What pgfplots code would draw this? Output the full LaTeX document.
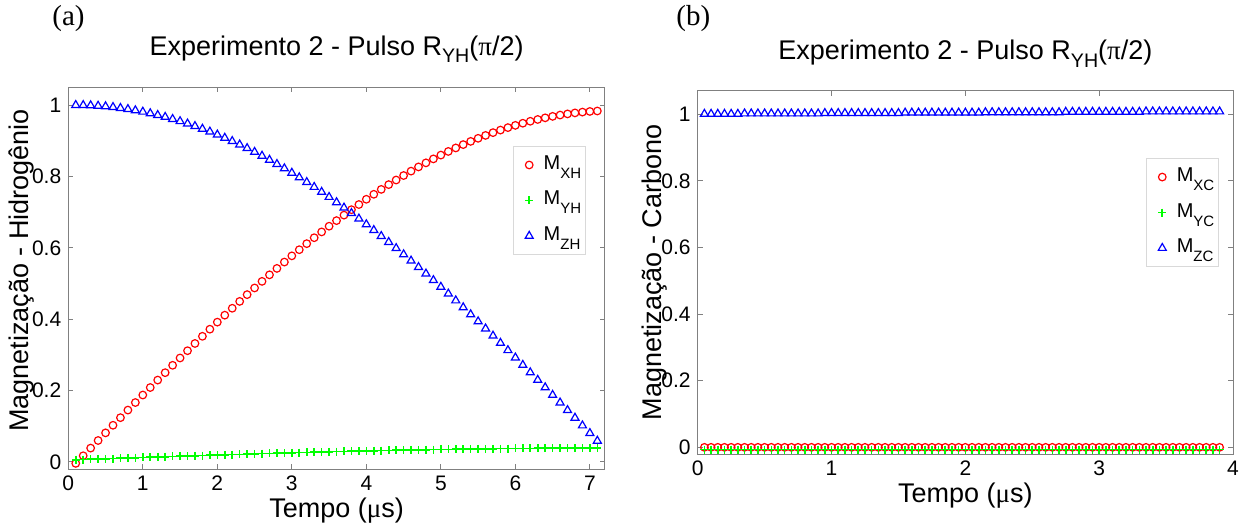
\documentclass[border=0pt]{standalone}
\usepackage{pgfplots}
\pgfplotsset{compat=1.18}
\usepackage{pgfplotstable}
\usepackage{fontspec}
\setmainfont{Liberation Sans}
\newfontfamily\seriffont{Liberation Serif}
\definecolor{mred}{rgb}{1,0,0}
\definecolor{mgreen}{rgb}{0,1,0}
\definecolor{mblue}{rgb}{0,0,1}
\newcommand\lsub[1]{\raisebox{-4.5pt}{\fontsize{7.5}{8}\selectfont #1}}
\newcommand\tsub[1]{\raisebox{-3.6pt}{\fontsize{9.8}{10}\selectfont #1}}

\pgfplotstableread{
t r g b
0.1 -0.0043 0.0060 1.0000
0.2 0.0171 0.0066 0.9998
0.3 0.0386 0.0073 0.9991
0.4 0.0599 0.0080 0.9979
0.5 0.0813 0.0087 0.9963
0.6 0.1026 0.0094 0.9942
0.7 0.1239 0.0102 0.9916
0.8 0.1452 0.0109 0.9886
0.9 0.1663 0.0116 0.9851
1.0 0.1874 0.0123 0.9812
1.1 0.2084 0.0130 0.9768
1.2 0.2293 0.0137 0.9719
1.3 0.2500 0.0144 0.9666
1.4 0.2707 0.0151 0.9608
1.5 0.2912 0.0158 0.9546
1.6 0.3116 0.0164 0.9480
1.7 0.3319 0.0171 0.9409
1.8 0.3520 0.0178 0.9333
1.9 0.3719 0.0185 0.9254
2.0 0.3917 0.0191 0.9170
2.1 0.4112 0.0198 0.9081
2.2 0.4306 0.0204 0.8989
2.3 0.4498 0.0211 0.8892
2.4 0.4688 0.0217 0.8791
2.5 0.4875 0.0223 0.8686
2.6 0.5060 0.0230 0.8577
2.7 0.5243 0.0236 0.8463
2.8 0.5423 0.0242 0.8346
2.9 0.5601 0.0248 0.8225
3.0 0.5775 0.0253 0.8100
3.1 0.5947 0.0259 0.7972
3.2 0.6117 0.0265 0.7839
3.3 0.6283 0.0271 0.7703
3.4 0.6446 0.0276 0.7564
3.5 0.6606 0.0281 0.7422
3.6 0.6763 0.0287 0.7274
3.7 0.6917 0.0292 0.7124
3.8 0.7069 0.0297 0.6971
3.9 0.7214 0.0302 0.6816
4.0 0.7361 0.0307 0.6657
4.1 0.7501 0.0311 0.6494
4.2 0.7638 0.0316 0.6328
4.3 0.7772 0.0320 0.6160
4.4 0.7901 0.0325 0.5988
4.5 0.8027 0.0329 0.5814
4.6 0.8150 0.0333 0.5637
4.7 0.8268 0.0337 0.5457
4.8 0.8382 0.0341 0.5275
4.9 0.8493 0.0345 0.5090
5.0 0.8600 0.0348 0.4903
5.1 0.8702 0.0351 0.4713
5.2 0.8800 0.0355 0.4522
5.3 0.8894 0.0358 0.4328
5.4 0.8984 0.0361 0.4132
5.5 0.9070 0.0364 0.3935
5.6 0.9151 0.0367 0.3735
5.7 0.9229 0.0369 0.3534
5.8 0.9301 0.0372 0.3331
5.9 0.9370 0.0374 0.3127
6.0 0.9433 0.0376 0.2921
6.1 0.9493 0.0378 0.2714
6.2 0.9548 0.0380 0.2505
6.3 0.9598 0.0381 0.2295
6.4 0.9644 0.0383 0.2085
6.5 0.9685 0.0384 0.1873
6.6 0.9722 0.0386 0.1660
6.7 0.9754 0.0387 0.1447
6.8 0.9782 0.0388 0.1233
6.9 0.9805 0.0388 0.1018
7.0 0.9823 0.0389 0.0803
7.1 0.9836 0.0390 0.0588
}\dataH

\pgfplotstableread{
t r g b
0.05 0.0000 -0.0070 1.0010
0.10 0.0000 -0.0070 1.0010
0.15 0.0000 -0.0070 1.0010
0.20 0.0000 -0.0070 1.0010
0.25 0.0000 -0.0070 1.0010
0.30 0.0000 -0.0070 1.0010
0.35 0.0000 -0.0070 1.0022
0.40 0.0000 -0.0070 1.0022
0.45 0.0000 -0.0070 1.0022
0.50 0.0000 -0.0070 1.0022
0.55 0.0000 -0.0070 1.0022
0.60 0.0000 -0.0070 1.0022
0.65 0.0000 -0.0070 1.0022
0.70 0.0000 -0.0070 1.0022
0.75 0.0000 -0.0070 1.0022
0.80 0.0000 -0.0070 1.0022
0.85 0.0000 -0.0070 1.0022
0.90 0.0000 -0.0070 1.0022
0.95 0.0000 -0.0070 1.0034
1.00 0.0000 -0.0070 1.0034
1.05 0.0000 -0.0070 1.0034
1.10 0.0000 -0.0070 1.0034
1.15 0.0000 -0.0070 1.0034
1.20 0.0000 -0.0070 1.0034
1.25 0.0000 -0.0070 1.0034
1.30 0.0000 -0.0070 1.0034
1.35 0.0000 -0.0070 1.0034
1.40 0.0000 -0.0070 1.0034
1.45 0.0000 -0.0070 1.0034
1.50 0.0000 -0.0070 1.0034
1.55 0.0000 -0.0070 1.0046
1.60 0.0000 -0.0070 1.0046
1.65 0.0000 -0.0070 1.0046
1.70 0.0000 -0.0070 1.0046
1.75 0.0000 -0.0070 1.0046
1.80 0.0000 -0.0070 1.0046
1.85 0.0000 -0.0070 1.0046
1.90 0.0000 -0.0070 1.0046
1.95 0.0000 -0.0070 1.0046
2.00 0.0000 -0.0070 1.0046
2.05 0.0000 -0.0070 1.0046
2.10 0.0000 -0.0070 1.0046
2.15 0.0000 -0.0070 1.0058
2.20 0.0000 -0.0070 1.0058
2.25 0.0000 -0.0070 1.0058
2.30 0.0000 -0.0070 1.0058
2.35 0.0000 -0.0070 1.0058
2.40 0.0000 -0.0070 1.0058
2.45 0.0000 -0.0070 1.0058
2.50 0.0000 -0.0070 1.0058
2.55 0.0000 -0.0070 1.0058
2.60 0.0000 -0.0070 1.0058
2.65 0.0000 -0.0070 1.0058
2.70 0.0000 -0.0070 1.0058
2.75 0.0000 -0.0070 1.0070
2.80 0.0000 -0.0070 1.0070
2.85 0.0000 -0.0070 1.0070
2.90 0.0000 -0.0070 1.0070
2.95 0.0000 -0.0070 1.0070
3.00 0.0000 -0.0070 1.0070
3.05 0.0000 -0.0070 1.0070
3.10 0.0000 -0.0070 1.0070
3.15 0.0000 -0.0070 1.0070
3.20 0.0000 -0.0070 1.0070
3.25 0.0000 -0.0070 1.0070
3.30 0.0000 -0.0070 1.0070
3.35 0.0000 -0.0070 1.0082
3.40 0.0000 -0.0070 1.0082
3.45 0.0000 -0.0070 1.0082
3.50 0.0000 -0.0070 1.0082
3.55 0.0000 -0.0070 1.0082
3.60 0.0000 -0.0070 1.0082
3.65 0.0000 -0.0070 1.0082
3.70 0.0000 -0.0070 1.0082
3.75 0.0000 -0.0070 1.0082
3.80 0.0000 -0.0070 1.0082
3.85 0.0000 -0.0070 1.0082
3.90 0.0000 -0.0070 1.0082
}\dataC

\pgfplotsset{
  mstyle/.style={
    scale only axis,
    axis line style={black!50, line width=0.5pt},
    tick style={black!50, line width=0.5pt},
    major tick length=2.5pt,
    tick align=inside,
    xtick pos=both, ytick pos=both,
    /pgf/number format/assume math mode=true,
    tick label style={font=\fontsize{10.5}{12}\selectfont, black},
    label style={font=\fontsize{13.5}{15}\selectfont},
    title style={font=\fontsize{13.5}{15}\selectfont, at={(0.5,1)}, anchor=base, yshift=10pt},
    ytick={0,0.2,0.4,0.6,0.8,1},
    yticklabels={0,0.2,0.4,0.6,0.8,1},
    xlabel={Tempo ({\seriffont μ}s)},
    xlabel style={at={(axis description cs:0.5,0)}, anchor=base, yshift=-24pt},
    legend style={draw=black!15, fill=white, font=\fontsize{10}{12}\selectfont,
      inner xsep=2.2pt, inner ysep=2.5pt, row sep=4.25pt, anchor=north east,
      nodes={inner sep=0pt, text height=9pt, text depth=4.5pt},
      /tikz/every odd column/.append style={column sep=3.85pt}},
    legend cell align=left,
    legend image code/.code={\path (-5.15pt,0pt) (3pt,0pt);
      \draw[##1] plot coordinates {(0pt,0pt)};},
    red mark/.style={only marks, mark=o, mred, mark size=1.9pt, line width=0.6pt},
    green mark/.style={only marks, mark=+, mgreen, mark size=2pt, line width=0.8pt},
    blue mark/.style={only marks, mark=triangle, mblue, mark size=2.3pt, line width=0.6pt},
  }
}

\begin{document}
\begin{tikzpicture}
\path[use as bounding box] (0,0) rectangle (627pt,262.5pt);

\begin{axis}[mstyle,
  at={(34.15pt,28pt)}, anchor=south west,
  width=268.25pt, height=190.85pt,
  xmin=0, xmax=7.2, ymin=-0.02, ymax=1.05,
  xtick={0,1,...,7},
  title={Experimento 2 - Pulso R\tsub{YH}({\seriffont π}/2)},
  ylabel={Magnetização - Hidrogênio},
  ylabel style={at={(axis description cs:-0.075,0.52)}, anchor=base},
  legend style={at={(axis description cs:0.965,0.846)}},
]
\addplot[red mark] table[x=t,y=r]{\dataH};
\addlegendentry{M\lsub{XH}}
\addplot[green mark] table[x=t,y=g]{\dataH};
\addlegendentry{M\lsub{YH}}
\addplot[blue mark] table[x=t,y=b]{\dataH};
\addlegendentry{M\lsub{ZH}}
\end{axis}

\begin{axis}[mstyle,
  at={(348.85pt,35.5pt)}, anchor=south west,
  width=267.65pt, height=181.5pt,
  xmin=0, xmax=4, ymin=-0.02, ymax=1.07,
  xtick={0,1,...,4},
  title={Experimento 2 - Pulso R\tsub{YH}({\seriffont π}/2)},
  title style={yshift=-0.5pt},
  ylabel={Magnetização - Carbono},
  ylabel style={at={(axis description cs:-0.068,0.5)}, anchor=base},
  legend style={at={(axis description cs:0.974,0.815)}},
]
\addplot[red mark] table[x=t,y=r]{\dataC};
\addlegendentry{M\lsub{XC}}
\addplot[green mark] table[x=t,y=g]{\dataC};
\addlegendentry{M\lsub{YC}}
\addplot[blue mark] table[x=t,y=b]{\dataC};
\addlegendentry{M\lsub{ZC}}
\end{axis}

\node[anchor=base west, font=\seriffont\fontsize{14.5}{16}\selectfont, inner sep=0pt] at (26pt,249.5pt) {(a)};
\node[anchor=base west, font=\seriffont\fontsize{14.5}{16}\selectfont, inner sep=0pt] at (338pt,249.5pt) {(b)};
\end{tikzpicture}
\end{document}
